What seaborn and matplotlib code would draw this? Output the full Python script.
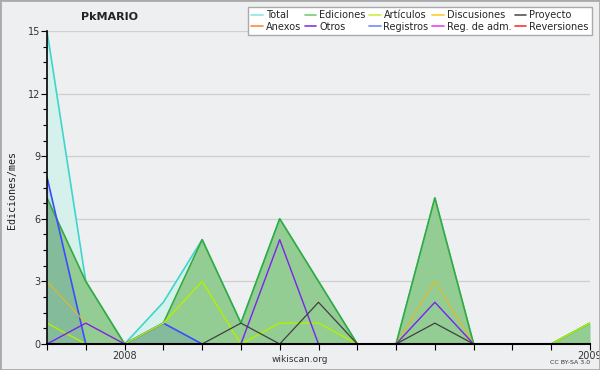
import numpy as np
import pandas as pd
import matplotlib
matplotlib.use("Agg")
import matplotlib.pyplot as plt
from matplotlib.lines import Line2D
from matplotlib.patches import Rectangle
from matplotlib.ticker import MultipleLocator, FixedLocator
import seaborn as sns

months = ["2007-11", "2007-12", "2008-01", "2008-02", "2008-03", "2008-04", "2008-05",
          "2008-06", "2008-07", "2008-08", "2008-09", "2008-10", "2008-11", "2008-12", "2009-01"]
total       = [15, 3, 0, 2, 5, 1, 6, 3, 0, 0, 7, 0, 0, 0, 1]
ediciones   = [7, 3, 0, 1, 5, 1, 6, 3, 0, 0, 7, 0, 0, 0, 1]
articulos   = [1, 0, 0, 1, 3, 0, 1, 1, 0, 0, 0, 0, 0, 0, 1]
discusiones = [3, 1, 0, 0, 0, 0, 0, 0, 0, 0, 3, 0, 0, 0, 0]
proyecto    = [0, 0, 0, 0, 0, 1, 0, 2, 0, 0, 1, 0, 0, 0, 0]
otros       = [0, 1, 0, 0, 0, 0, 5, 0, 0, 0, 2, 0, 0, 0, 0]
registros   = [8, 0, 0, 1, 0, 0, 0, 0, 0, 0, 0, 0, 0, 0, 0]
tick_labels = {"2008-01": "2008", "2009-01": "2009"}

legend_names = ["Total", "Ediciones", "Artículos", "Discusiones", "Proyecto",
                "Anexos", "Otros", "Registros", "Reg. de adm.", "Reversiones"]
legend_colors = ["#8ee6e6", "#77cc77", "#c8ee44", "#ffcc33", "#555555",
                 "#ff8844", "#8833ee", "#7788ff", "#ee44ee", "#ff3333"]

sns.set_theme(style="white")
plt.rcParams['font.family'] = ['DejaVu Sans']

bg = "#eeeff1"
fig = plt.figure(figsize=(6, 3.7), dpi=100, facecolor=bg)
ax = fig.add_axes([47/600, 26/370, (590-47)/600, (344-31)/370])
ax.set_facecolor(bg)

x = np.arange(len(months))
df = pd.DataFrame({"idx": x, "month": months, "Total": total, "Ediciones": ediciones,
                   "Artículos": articulos, "Discusiones": discusiones,
                   "Proyecto": proyecto, "Otros": otros, "Registros": registros})

# areas
ax.fill_between(df["idx"], df["Total"], color="#d6f1ec", zorder=1, lw=0)
sns.lineplot(data=df, x="idx", y="Total", color="#3ed6cc", lw=1.2, ax=ax, zorder=2)
ax.fill_between(df["idx"], df["Ediciones"], color="#93cd93", zorder=3, lw=0)
ax.fill_between(df["idx"], df["Registros"], color="#2a5ad0", alpha=0.14, zorder=4, lw=0)

lines = [("Ediciones", "#35aa3f", 1.2), ("Registros", "#3c4cff", 1.2),
         ("Discusiones", "#e6b820", 0.8), ("Artículos", "#b4f000", 1.0),
         ("Otros", "#7a22ee", 1.0), ("Proyecto", "#404040", 0.9)]
for i, (name, col, lw) in enumerate(lines):
    sns.lineplot(data=df, x="idx", y=name, color=col, lw=lw, ax=ax, zorder=5 + i)

ax.set_xlim(0, len(months) - 1)
ax.set_ylim(0, 15)
for s in ["top", "right"]:
    ax.spines[s].set_visible(False)
ax.spines["left"].set_color("black")
ax.spines["bottom"].set_color("black")
ax.spines["left"].set_linewidth(1.2)
ax.spines["bottom"].set_linewidth(1.5)
ax.spines["left"].set_zorder(20)
ax.spines["bottom"].set_zorder(20)

ax.yaxis.set_major_locator(MultipleLocator(3))
ax.yaxis.set_minor_locator(MultipleLocator(0.75))
ax.grid(axis="y", which="major", color="#cfcfcf", lw=0.9, zorder=0)
ax.set_axisbelow(True)
ax.tick_params(axis="y", which="both", left=True, direction="out", color="black",
               labelsize=7, labelcolor="#333333", pad=1)
ax.tick_params(axis="y", which="major", length=4, width=0.8)
ax.tick_params(axis="y", which="minor", length=3, width=0.8)

ax.xaxis.set_major_locator(FixedLocator(x))
ax.set_xticklabels([tick_labels.get(m, "") for m in months])
ax.tick_params(axis="x", which="major", bottom=True, direction="out", length=4, width=0.8,
               color="black", labelsize=7, labelcolor="#333333", pad=1)
ax.set_xlabel("")
ax.set_ylabel("")

fig.text(12/600, 1 - 190/370, "Ediciones/mes", rotation=90, ha="center", va="center",
         fontsize=7.2, color="#222222", family="DejaVu Sans Mono")
fig.text(110/600, 1 - 17/370, "PkMARIO", ha="center", va="center", fontsize=8,
         fontweight="bold", color="#222222")
fig.text(300/600, 1 - 359/370, "wikiscan.org", ha="center", va="center", fontsize=6.5,
         color="#333333")
fig.text(570/600, 1 - 362/370, "CC BY-SA 3.0", ha="center", va="center", fontsize=4.5,
         color="#333333")

handles = [Line2D([0], [0], color=c, lw=1.2) for c in legend_colors]
order = [0, 5, 1, 6, 2, 7, 3, 8, 4, 9]
leg = fig.legend([handles[i] for i in order], [legend_names[i] for i in order],
                 ncol=5, loc="upper right", bbox_to_anchor=(592/600, 1 - 7/370),
                 fontsize=7, frameon=True, fancybox=False, edgecolor="#aaaaaa",
                 facecolor="white", framealpha=1, handlelength=1.2, handletextpad=0.3,
                 columnspacing=0.35, labelspacing=0.15, borderpad=0.35, borderaxespad=0)
leg.get_frame().set_linewidth(1.0)

fig.patches.append(Rectangle((0, 0), 1, 1, transform=fig.transFigure, fill=False,
                             edgecolor="#aaaaaa", lw=2, zorder=100))

fig.savefig("out.png", dpi=100, facecolor=bg)
